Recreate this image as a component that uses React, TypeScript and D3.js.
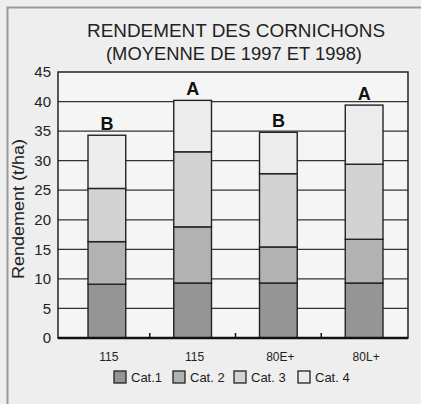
import React, { useRef, useEffect } from "react";
import * as d3 from "d3";

const groups = ["115", "115 ", "80E+", "80L+"];
const groupLabels = ["115", "115", "80E+", "80L+"];
const cat1 = [9.1, 9.3, 9.3, 9.3];
const cat2 = [7.2, 9.5, 6.1, 7.4];
const cat3 = [9.0, 12.7, 12.4, 12.7];
const cat4 = [9.0, 8.7, 7.0, 10.0];
const letters = ["B", "A", "B", "A"];
const seriesNames = ["Cat.1", "Cat. 2", "Cat. 3", "Cat. 4"];
const yTicks = [0, 5, 10, 15, 20, 25, 30, 35, 40, 45];

const W = 421;
const H = 404;
const FONT = "'Liberation Sans', Arial, Helvetica, sans-serif";

const App = () => {
  const svgRef = useRef<SVGSVGElement | null>(null);

  useEffect(() => {
    const svg = d3.select(svgRef.current);
    svg.selectAll("*").remove();

    const margin = { top: 72, right: 13, bottom: 66, left: 58 };
    const colors = ["#959595", "#b2b2b2", "#d3d3d3", "#ececec"];

    // frame background
    svg.append("rect").attr("width", W).attr("height", H).attr("fill", "#eeeeee");
    svg
      .append("path")
      .attr("d", `M7.5,${H} V7.5 H${W}`)
      .attr("fill", "none")
      .attr("stroke", "#9a9a9a")
      .attr("stroke-width", 2);

    const x = d3
      .scaleBand()
      .domain(groups)
      .range([64, 407])
      .paddingInner(0.56)
      .paddingOuter(0.28);
    const bandStep = x.step();
    const y = d3.scaleLinear().domain([0, 45]).range([H - margin.bottom, margin.top]);

    // plot area
    svg
      .append("rect")
      .attr("x", margin.left)
      .attr("y", margin.top)
      .attr("width", W - margin.right - margin.left)
      .attr("height", y(0) - margin.top)
      .attr("fill", "#f5f5f5");

    svg
      .append("g")
      .selectAll("line")
      .data(yTicks.filter((t) => t > 0 && t < 45))
      .enter()
      .append("line")
      .attr("x1", margin.left)
      .attr("x2", W - margin.right)
      .attr("y1", (d) => y(d))
      .attr("y2", (d) => y(d))
      .attr("stroke", "#333")
      .attr("stroke-width", 1.3);

    // stacked bars
    const rows = groups.map((g, i) => ({
      key: g,
      c1: cat1[i],
      c2: cat2[i],
      c3: cat3[i],
      c4: cat4[i],
    }));
    const stacked = d3.stack<any>().keys(["c1", "c2", "c3", "c4"])(rows);

    stacked.forEach((layer, li) => {
      svg
        .append("g")
        .selectAll("rect")
        .data(layer)
        .enter()
        .append("rect")
        .attr("x", (d: any) => x(d.data.key) as number)
        .attr("width", x.bandwidth())
        .attr("y", (d) => y(d[1]))
        .attr("height", (d) => y(d[0]) - y(d[1]))
        .attr("fill", colors[li])
        .attr("stroke", "#222")
        .attr("stroke-width", 1.4);
    });

    // significance letters
    const totals = groups.map((_, i) => cat1[i] + cat2[i] + cat3[i] + cat4[i]);
    svg
      .append("g")
      .selectAll("text")
      .data(groups)
      .enter()
      .append("text")
      .attr("x", (d) => (x(d) as number) + x.bandwidth() / 2)
      .attr("y", (d, i) => y(totals[i]) - 5)
      .attr("text-anchor", "middle")
      .attr("font-family", "'Liberation Sans Narrow', 'Liberation Sans', Arial, sans-serif")
      .attr("font-weight", "bold")
      .attr("font-size", 18)
      .attr("fill", "#111")
      .text((d, i) => letters[i]);

    // plot border
    svg
      .append("rect")
      .attr("x", margin.left)
      .attr("y", margin.top)
      .attr("width", W - margin.right - margin.left)
      .attr("height", y(0) - margin.top)
      .attr("fill", "none")
      .attr("stroke", "#222")
      .attr("stroke-width", 1.5);
    svg
      .append("line")
      .attr("x1", margin.left)
      .attr("x2", W - margin.right)
      .attr("y1", y(0))
      .attr("y2", y(0))
      .attr("stroke", "#111")
      .attr("stroke-width", 2.5);

    // category separator ticks
    svg
      .append("g")
      .selectAll("line")
      .data(groups.slice(1))
      .enter()
      .append("line")
      .attr("x1", (d) => (x(d) as number) - (bandStep - x.bandwidth()) / 2)
      .attr("x2", (d) => (x(d) as number) - (bandStep - x.bandwidth()) / 2)
      .attr("y1", y(0))
      .attr("y2", y(0) - 5)
      .attr("stroke", "#111")
      .attr("stroke-width", 1.5);

    // y tick labels
    svg
      .append("g")
      .selectAll("text")
      .data(yTicks)
      .enter()
      .append("text")
      .attr("x", margin.left - 7)
      .attr("y", (d) => y(d))
      .attr("dy", "0.35em")
      .attr("text-anchor", "end")
      .attr("font-family", FONT)
      .attr("font-size", 15)
      .attr("fill", "#222")
      .text((d) => d);

    // x labels
    svg
      .append("g")
      .selectAll("text")
      .data(groups)
      .enter()
      .append("text")
      .attr("x", (d) => (x(d) as number) + x.bandwidth() / 2 + 2)
      .attr("y", y(0) + 23)
      .attr("text-anchor", "middle")
      .attr("font-family", FONT)
      .attr("font-size", 12)
      .attr("fill", "#222")
      .text((d, i) => groupLabels[i]);

    // y title
    svg
      .append("text")
      .attr("transform", `translate(24, ${(y(0) + margin.top) / 2 + 4}) rotate(-90)`)
      .attr("text-anchor", "middle")
      .attr("font-family", FONT)
      .attr("font-size", 16)
      .attr("textLength", 140)
      .attr("lengthAdjust", "spacingAndGlyphs")
      .attr("fill", "#222")
      .text("Rendement (t/ha)");

    // title
    svg
      .append("text")
      .attr("x", 236)
      .attr("y", 37)
      .attr("text-anchor", "middle")
      .attr("font-family", FONT)
      .attr("font-size", 18)
      .attr("textLength", 298)
      .attr("lengthAdjust", "spacingAndGlyphs")
      .attr("fill", "#222")
      .text("RENDEMENT DES CORNICHONS");
    svg
      .append("text")
      .attr("x", 234)
      .attr("y", 60)
      .attr("text-anchor", "middle")
      .attr("font-family", FONT)
      .attr("font-size", 18)
      .attr("textLength", 256)
      .attr("lengthAdjust", "spacingAndGlyphs")
      .attr("fill", "#222")
      .text("(MOYENNE DE 1997 ET 1998)");

    // legend
    const legendX = [114, 173, 234, 298];
    const legend = svg.append("g");
    seriesNames.forEach((name, i) => {
      const g = legend.append("g").attr("transform", `translate(${legendX[i]}, 371)`);
      g.append("rect")
        .attr("width", 12)
        .attr("height", 12)
        .attr("fill", colors[i])
        .attr("stroke", "#222")
        .attr("stroke-width", 1.3);
      g.append("text")
        .attr("x", 17)
        .attr("y", 11)
        .attr("font-family", FONT)
        .attr("font-size", 13)
        .attr("fill", "#222")
        .text(name);
    });

    return () => {
      svg.selectAll("*").remove();
    };
  }, []);

  return (
    <svg
      ref={svgRef}
      width={W}
      height={H}
      style={{ position: "absolute", left: 0, top: 0 }}
    />
  );
};

export default App;
